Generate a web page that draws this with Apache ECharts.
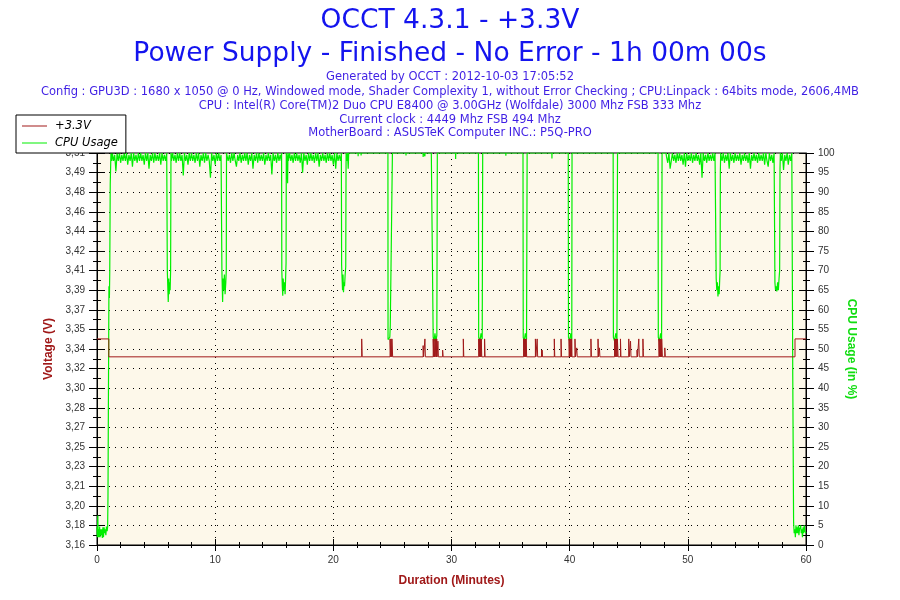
<!DOCTYPE html>
<html><head><meta charset="utf-8">
<script src="https://cdn.jsdelivr.net/npm/echarts@6/dist/echarts.min.js"></script>
<style>html,body{margin:0;padding:0;background:#fff}#c{width:900px;height:600px}</style>
</head><body><div id="c"></div>
<script>
// ---------- text ----------
const titleMain = 'OCCT 4.3.1 - +3.3V';
const titleSub = 'Power Supply - Finished - No Error - 1h 00m 00s';
const infoLines = [
  'Generated by OCCT : 2012-10-03 17:05:52',
  'Config : GPU3D : 1680 x 1050 @ 0 Hz, Windowed mode, Shader Complexity 1, without Error Checking ; CPU:Linpack : 64bits mode, 2606,4MB',
  'CPU : Intel(R) Core(TM)2 Duo CPU E8400 @ 3.00GHz (Wolfdale) 3000 Mhz FSB 333 Mhz',
  'Current clock : 4449 Mhz FSB 494 Mhz',
  'MotherBoard : ASUSTeK Computer INC.: P5Q-PRO'
];
const seriesNames = ['+3.3V', 'CPU Usage'];

// ---------- voltage (+3.3V) ----------
const voltBase = 3.328;
const voltStart = [[0, 3.344], [1.0, 3.328]];
// [start minute, end minute, value]
const voltSpikes = [
  [22.4,22.44,3.344],
  [24.8,24.86,3.344],[24.88,24.94,3.344],[24.96,25.02,3.344],
  [27.6,27.64,3.338],[27.75,27.79,3.344],
  [28.45,28.5,3.344],[28.52,28.56,3.344],[28.62,28.67,3.344],[28.69,28.73,3.344],[28.75,28.78,3.344],
  [28.85,28.89,3.342],[29.25,29.29,3.334],[31.0,31.04,3.344],
  [32.3,32.36,3.344],[32.38,32.44,3.344],[32.46,32.5,3.344],[32.52,32.56,3.344],[32.8,32.84,3.344],
  [36.1,36.16,3.344],[36.18,36.24,3.344],[36.26,36.3,3.344],[36.32,36.36,3.344],
  [37.1,37.14,3.344],[37.25,37.29,3.344],[37.62,37.65,3.334],[37.67,37.7,3.334],[38.7,38.74,3.344],
  [39.27,39.31,3.344],
  [39.95,40.0,3.344],[40.02,40.08,3.344],[40.1,40.15,3.344],[40.17,40.2,3.344],
  [40.45,40.49,3.344],[40.6,40.64,3.336],[41.8,41.84,3.344],[42.4,42.44,3.344],[42.52,42.56,3.336],
  [43.8,43.86,3.344],[43.88,43.94,3.344],[43.96,44.02,3.344],[44.04,44.1,3.344],
  [44.3,44.34,3.344],[45.0,45.04,3.344],[45.15,45.19,3.342],[45.7,45.74,3.334],
  [45.85,45.89,3.344],[46.2,46.24,3.344],
  [47.55,47.61,3.344],[47.63,47.69,3.344],[47.71,47.77,3.344],[47.79,47.85,3.344],
  [48.05,48.09,3.336]
];
const voltEnd = [[59.07, 3.344], [60, 3.344]];

// ---------- CPU usage (%) ----------
const cpuStartup = [[0,4.5],[0.03,2],[0.07,7.5],[0.1,2],[0.14,4],[0.18,2],[0.22,4.7],[0.26,2],[0.3,4],[0.35,2.5],
  [0.4,4],[0.45,1.8],[0.5,4.5],[0.55,2],[0.6,4.5],[0.65,3],[0.7,4],[0.75,2.5],[0.8,4.7],[0.86,3.5],[0.9,4.7],
  [0.93,12.4],[0.99,12.4],[1.01,66],[1.05,63],[1.08,70],[1.12,92],[1.18,100],[1.25,98]];
const noiseStep = 0.1;
const noiseB = [100,98,99.5,95.3,100,98,100,97.5,99.5,98, 100,98,100,97,99.5,98,100,96.5,100,98,
  99.5,97.5,100,98,100,98,99.5,97,100,98, 100,96,99.5,98,100,97.5,100,98,99.5,98, 100,97,100,98,99.5,98,100];
const dipB = [[5.93,100],[5.95,70],[5.99,66],[6.03,62],[6.07,68],[6.11,64],[6.15,67],[6.19,65],[6.23,70],[6.26,100]];
const noiseC = [98,100,98,99.5,97.5,100,98,100,98,99.5, 94.3,100,98,99.5,97,100,98,100,98,99.5,
  97.5,100,98,100,96.5,99.5,98,100,97.5,100, 98,99.5,98,93.7,100,98,99.5,97,100,98, 100,98,99.5];
const dipC = [[10.55,100],[10.57,70],[10.6,66],[10.63,62],[10.67,68],[10.72,65],[10.78,69],[10.84,64],[10.9,67],[10.94,70],[10.96,100]];
const noiseD = [100,98,99.5,97.5,100,98,100,98,96.5,99.5, 98,100,97.5,99.5,98,100,98,100,97,99.5,
  98,100,96,99.5,98,100,97.5,100,98,99.5, 98,100,97,99.5,98,100,98,99.5,94.5,100, 98,99.5,97.5,100,98,99.5,98];
const dipD = [[15.62,100],[15.64,70],[15.68,66],[15.72,63.6],[15.76,68],[15.8,65],[15.86,67],[15.92,64],[15.97,69],[16.0,72],[16.02,100],[16.06,99],[16.13,92.3],[16.16,100]];
const noiseE = [98,100,98,99.5,97.5,100,98,100,98,99.5, 97.5,100,95,100,98,99.5,97,100,98,100,
  98,99.5,97.5,100,98,100,96.5,99.5,98,100, 98,99.5,97.5,100,98,100,98,99.5,97,100, 96,100,98,99.5,98];
const dipE = [[20.68,100],[20.7,71.5],[20.74,68],[20.78,65],[20.82,69],[20.86,64.5],[20.9,67],[20.95,66],[21.0,69],[21.05,71],[21.08,100],[21.15,98],[21.2,100],[21.26,96],[21.3,100]];
const cpuBlips = [[22.1,99.2],[22.35,99.4],[26.15,99.4],[27.6,99],[27.75,99.2],[28.0,99.5],[28.3,99.5],[29.1,99.6],
  [29.3,99.6],[30.35,98.5],[31.3,99.6],[31.56,99.5],[33.4,99.5],[34.0,99.5],[34.6,99.3],[36.8,99.6],[37.9,99.5],[38.5,98.6],
  [38.7,99.5],[39.2,99.5],[42.1,99.5],[42.55,99.5],[43.5,99.5],[45.4,99.5],[46.3,99.5],[46.45,99.5],[47.0,99.5]];
const dipsMid = [
  [[24.62,100],[24.63,52.4],[24.7,52],[24.78,53],[24.82,56],[24.98,56],[25.0,100]],
  [[28.43,100],[28.45,53],[28.52,52],[28.6,54],[28.68,52],[28.76,53.5],[28.8,100]],
  [[32.28,100],[32.3,53],[32.4,52],[32.5,54],[32.6,52.5],[32.64,100]],
  [[36.05,100],[36.07,53],[36.15,52],[36.25,54],[36.35,52.5],[36.4,100]],
  [[39.88,100],[39.9,53],[40.0,52],[40.1,54],[40.18,52.5],[40.2,100]],
  [[43.68,100],[43.7,53],[43.8,52],[43.9,54],[44.0,52.5],[44.05,100]],
  [[47.48,100],[47.5,53],[47.6,52],[47.7,54],[47.78,52.5],[47.82,100]]
];
const noiseG = [99,97.5,100,96,98,100,98,99.5,97.5,100, 98,100,98,99.5,97,100,96.5,100,98,99.5,
  98,100,97.5,99.5,98,100,98,99.5,97,100, 93.7,100,98,99.5,97.5,100,98,99.5,98,100, 98,100];
const dipG = [[52.38,100],[52.4,68],[52.45,65],[52.5,67],[52.55,63.4],[52.6,66],[52.65,64],[52.7,68],[52.73,70],[52.75,95],[52.78,100]];
const noiseH = [98,100,97.5,99.5,98,100,96,100,98,99.5, 97.5,100,98,99.5,98,100,97,99.5,98,100,
  98,99.5,97.5,100,96,99.5,98,100,98,99.5, 97.5,100,98,99.5,98,100,97,100,98,96.5, 100,98,99.5,97.5,100];
const dipH = [[57.35,100],[57.37,67],[57.42,65],[57.48,66],[57.53,64.7],[57.6,67],[57.66,65],[57.72,68],[57.77,70],[57.8,96],[57.83,100]];
const noiseI = [98,100,95.7,99.5,98,100,97,99.5,98,100];
const cpuDrop = [[58.86,100],[58.88,43],[58.93,43],[58.95,5.7],[59.0,3]];
const endStep = 0.05;
const noiseJ = [4,2,5,3,4.5,3,5,2.5,4,3.5,5,3,4,2,4.5,3,5,3.5,4,3];

// ---------- axes ----------
const xMin = 0, xMax = 60, xInterval = 10;
const vMin = 3.16, vMax = 3.51, vInterval = 0.0175;
const cMin = 0, cMax = 100, cInterval = 5;

// ---------- build series tables ----------
function seq(t0, dt, vals) { return vals.map((v, i) => [+(t0 + i * dt).toFixed(3), v]); }
function expandBlips(list) { return list.flatMap(([t, v]) => [[t - 0.008, 100], [t, v], [t + 0.008, 100]]); }

const voltData = voltStart.concat(voltSpikes.flatMap(([a, b, v]) => [[a, v], [b, voltBase]]), voltEnd);

let cpuData = [].concat(
  cpuStartup, seq(1.3, noiseStep, noiseB), dipB, seq(6.3, noiseStep, noiseC), dipC,
  seq(11.0, noiseStep, noiseD), dipD, seq(16.2, noiseStep, noiseE), dipE,
  expandBlips(cpuBlips), ...dipsMid, [[48.15, 100]],
  seq(48.2, noiseStep, noiseG), dipG, seq(52.9, noiseStep, noiseH), dipH,
  seq(57.9, noiseStep, noiseI), cpuDrop, seq(59.05, endStep, noiseJ)
);
cpuData.sort((a, b) => a[0] - b[0]);

// ---------- chart ----------
const red = '#a01919', green = '#00ee00';
const tickFont = {color: '#333', fontSize: 10, fontFamily: 'Liberation Sans, Arial, sans-serif'};
const nameFont = {fontSize: 12, fontWeight: 'bold', fontFamily: 'Liberation Sans, Arial, sans-serif'};
const blackLine = {color: '#000', width: 1};
const dotted = {show: true, lineStyle: {color: '#000', width: 1, type: [1, 5]}};
const infoTops = [71, 86, 100, 114, 127];
const bigTitle = {fontFamily: 'DejaVu Sans', fontSize: 26.5, fontWeight: 'normal', color: '#1414ee'};

const chart = echarts.init(document.getElementById('c'), null, {renderer: 'canvas'});
chart.setOption({
  animation: false,
  backgroundColor: '#fff',
  title: [
    {text: titleMain, left: 'center', top: 8, padding: 0, textStyle: bigTitle},
    {text: titleSub, left: 'center', top: 41, padding: 0, textStyle: bigTitle}
  ].concat(infoLines.map((t, i) => ({text: t, left: 'center', top: infoTops[i], padding: 0,
    textStyle: {fontFamily: 'DejaVu Sans', fontSize: 11.5, fontWeight: 'normal', color: '#3f1fe4'}}))),
  legend: {
    data: seriesNames, left: 16, top: 115, orient: 'vertical', icon: 'rect', itemWidth: 25, itemHeight: 1,
    itemGap: 5, padding: [5, 8, 4, 6], borderColor: '#000', borderWidth: 1, borderRadius: 0, backgroundColor: '#fff',
    selectedMode: false, textStyle: {fontStyle: 'italic', fontFamily: 'DejaVu Sans', fontSize: 11.5, color: '#000', padding: [0, 0, 0, 3]}
  },
  grid: {left: 97, right: 94, top: 153, bottom: 55, show: true, backgroundColor: '#fdf8ea', borderColor: '#000', borderWidth: 1},
  xAxis: [
    {type: 'value', position: 'bottom', min: xMin, max: xMax, interval: xInterval,
      axisLine: {show: true, lineStyle: blackLine}, axisTick: {show: true, length: 6, lineStyle: blackLine},
      minorTick: {show: true, splitNumber: 5, length: 3, lineStyle: blackLine},
      axisLabel: Object.assign({margin: 10}, tickFont), splitLine: dotted,
      name: 'Duration (Minutes)', nameLocation: 'middle', nameGap: 30, nameTextStyle: Object.assign({color: red}, nameFont)},
    {type: 'value', position: 'bottom', min: xMin, max: xMax, interval: xInterval,
      axisLine: {show: false}, axisTick: {show: true, inside: true, length: 6, lineStyle: blackLine},
      minorTick: {show: true, splitNumber: 5, length: 3, lineStyle: blackLine},
      axisLabel: {show: false}, splitLine: {show: false}}
  ],
  yAxis: [
    {type: 'value', position: 'left', min: vMin, max: vMax, interval: vInterval,
      axisLine: {show: true, lineStyle: blackLine}, axisTick: {show: true, length: 8, lineStyle: blackLine},
      minorTick: {show: true, splitNumber: 2, length: 4, lineStyle: blackLine},
      axisLabel: Object.assign({margin: 12, formatter: v => (Math.round(v * 100 + 1e-4) / 100).toFixed(2).replace('.', ',')}, tickFont),
      splitLine: dotted,
      name: 'Voltage (V)', nameLocation: 'middle', nameGap: 37, nameTextStyle: Object.assign({color: red}, nameFont)},
    {type: 'value', position: 'left', min: vMin, max: vMax, interval: vInterval,
      axisLine: {show: false}, axisTick: {show: true, inside: true, length: 8, lineStyle: blackLine},
      minorTick: {show: true, splitNumber: 2, length: 4, lineStyle: blackLine},
      axisLabel: {show: false}, splitLine: {show: false}},
    {type: 'value', position: 'right', min: cMin, max: cMax, interval: cInterval,
      axisLine: {show: true, lineStyle: blackLine}, axisTick: {show: true, length: 8, lineStyle: blackLine},
      minorTick: {show: true, splitNumber: 2, length: 4, lineStyle: blackLine},
      axisLabel: Object.assign({margin: 12}, tickFont), splitLine: {show: false},
      name: 'CPU Usage (in %)', nameLocation: 'middle', nameGap: 33, nameRotate: -90, nameTextStyle: Object.assign({color: '#11dd11'}, nameFont)},
    {type: 'value', position: 'right', min: cMin, max: cMax, interval: cInterval,
      axisLine: {show: false}, axisTick: {show: true, inside: true, length: 6, lineStyle: blackLine},
      minorTick: {show: true, splitNumber: 2, length: 3, lineStyle: blackLine},
      axisLabel: {show: false}, splitLine: {show: false}}
  ],
  series: [
    {name: seriesNames[0], type: 'line', xAxisIndex: 0, yAxisIndex: 0, step: 'end', symbol: 'none', showSymbol: false,
      lineStyle: {color: red, width: 1}, itemStyle: {color: red}, data: voltData, z: 3},
    {name: seriesNames[1], type: 'line', xAxisIndex: 0, yAxisIndex: 2, symbol: 'none', showSymbol: false,
      lineStyle: {color: green, width: 1.2}, itemStyle: {color: green}, data: cpuData, z: 2}
  ]
});
</script></body></html>
